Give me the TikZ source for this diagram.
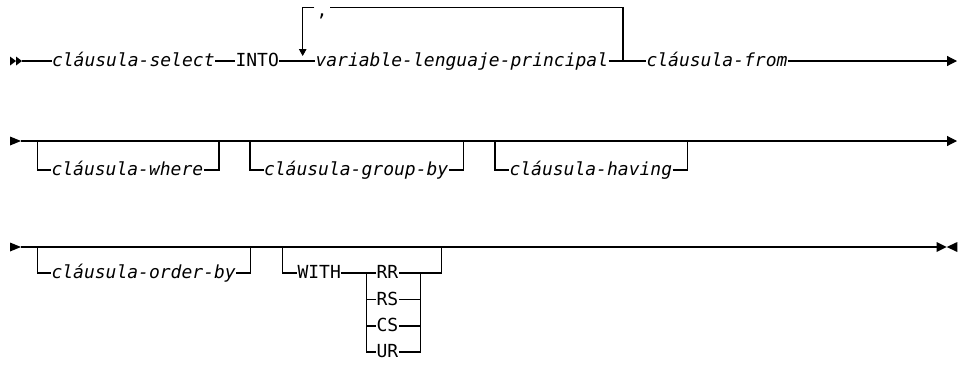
\documentclass[tikz,border=0pt]{standalone}
\usepackage{fontspec}
\newfontfamily\rrfont{DejaVu Sans Mono}[ItalicFont={* Oblique}]
\usetikzlibrary{arrows.meta, positioning}

\begin{document}
\begin{tikzpicture}[
        x=1pt, y=-1pt, line width=1.1pt,
        every node/.style={inner sep=0pt, anchor=west, text height=11.4pt, text depth=0pt,
            font=\rrfont\fontsize{18}{20}\selectfont},
        var/.style={font=\rrfont\itshape\fontsize{18}{20}\selectfont},
        endtip/.style={-{Triangle[length=10pt, width=10pt]}},
        looptip/.style={-{Triangle[length=7pt, width=7.5pt]}}
    ]
        \useasboundingbox (0,0) rectangle (965,364);

        % Fila 1
        \fill (10,56.5) -- (16,61) -- (10,65.5) -- cycle;
        \fill (16,56.5) -- (22,61) -- (16,65.5) -- cycle;
        \coordinate (s1) at (22,61);
        \node[var] (sel) at (51.5,61) {cláusula-select};
        \node (into) at (235,61) {INTO};
        \node[var] (vlp) at (315,61) {variable-lenguaje-principal};
        \node[var] (from) at (646,61) {cláusula-from};
        \coordinate (e1) at (957,61);
        \coordinate (tl) at (302.7,7.3);
        \coordinate (tr) at (623,7.3);
        \coordinate (jr) at (623,61);
        \coordinate (ja) at (302.7,56);
        \node[anchor=base, minimum width=14pt] (comma) at (322,16.5) {,};

        \draw (s1) -- (sel);
        \draw (sel) -- (into);
        \draw (into) -- (vlp);
        \draw (vlp) -- (from);
        \draw[endtip] (from) -- (e1);
        \draw (jr) -- (tr) -- (comma.east |- tr);
        \draw[looptip] (comma.west |- tl) -- (tl) -- (ja);

        % Fila 2
        \fill (10,136.5) -- (21,141) -- (10,145.5) -- cycle;
        \coordinate (s2) at (21,141);
        \coordinate (e2) at (957,141);
        \draw[endtip] (s2) -- (e2);
        \node[var] (where) at (51,170) {cláusula-where};
        \node[var] (group) at (263.5,170) {cláusula-group-by};
        \node[var] (having) at (509,170) {cláusula-having};
        \coordinate (w1) at (37.3,141);
        \coordinate (w2) at (219,141);
        \coordinate (g1) at (250,141);
        \coordinate (g2) at (463.3,141);
        \coordinate (h1) at (495,141);
        \coordinate (h2) at (687.3,141);
        \draw (w1) |- (where);
        \draw (where) -| (w2);
        \draw (g1) |- (group);
        \draw (group) -| (g2);
        \draw (h1) |- (having);
        \draw (having) -| (h2);

        % Fila 3
        \fill (10,242.5) -- (21,247) -- (10,251.5) -- cycle;
        \coordinate (s3) at (21,247);
        \coordinate (e3) at (936.7,247);
        \draw (s3) -- (e3);
        \fill (936.7,242) -- (946.7,247) -- (936.7,252) -- cycle;
        \fill (957.3,242) -- (946.7,247) -- (957.3,252) -- cycle;
        \node[var] (order) at (51,273) {cláusula-order-by};
        \node (with) at (297,273) {WITH};
        \node (rr) at (376,273) {RR};
        \node (rs) at (376,299.5) {RS};
        \node (cs) at (376,326) {CS};
        \node (ur) at (376,352) {UR};
        \coordinate (o1) at (37.3,247);
        \coordinate (o2) at (250.7,247);
        \coordinate (k1) at (282.7,247);
        \coordinate (k2) at (441.7,247);
        \coordinate (c1) at (366.7,273);
        \coordinate (c2) at (420.7,273);

        \draw (o1) |- (order);
        \draw (order) -| (o2);
        \draw (k1) |- (with);
        \draw (with) -- (rr);
        \draw (rr) -| (k2);
        \draw (c1) |- (ur);
        \draw (ur) -| (c2);
        \draw (c1 |- rs) -- (rs);
        \draw (rs) -- (c2 |- rs);
        \draw (c1 |- cs) -- (cs);
        \draw (cs) -- (c2 |- cs);
    \end{tikzpicture}
\end{document}
